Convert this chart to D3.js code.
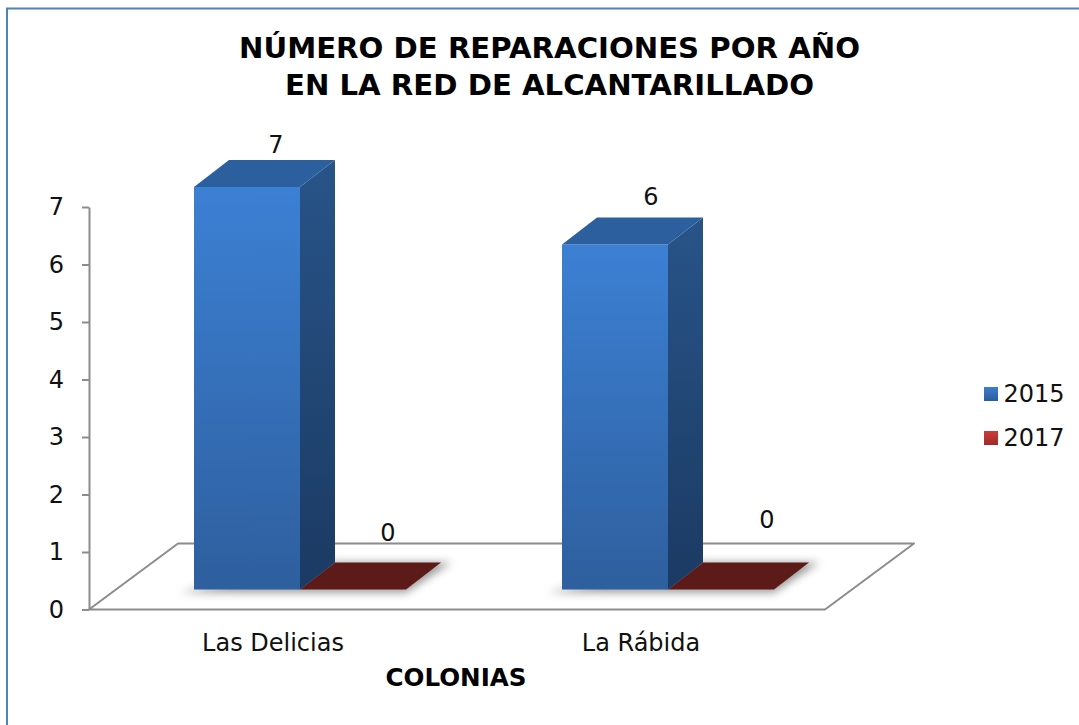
<!DOCTYPE html>
<html>
<head>
  <meta charset="UTF-8">
  <title>Reparaciones</title>
  <script src="https://d3js.org/d3.v7.min.js"></script>
  <style>
    html, body { margin: 0; padding: 0; background: white; }
    svg { display: block; }
    text { font-family: "DejaVu Sans", sans-serif; fill: #111; }
  </style>
</head>
<body>
<svg id="chart"></svg>
<script>
  let colonias = ["Las Delicias", "La Rábida"];
  let years = ["2015", "2017"];
  let values2015 = [7, 6];
  let values2017 = [0, 0];
  let yTicks = [0, 1, 2, 3, 4, 5, 6, 7];
  let titleLines = ["NÚMERO DE REPARACIONES POR AÑO", "EN LA RED DE ALCANTARILLADO"];
  let xTitle = "COLONIAS";

  let width = 1079;
  let height = 725;

  let svg = d3.select("#chart").attr("width", width).attr("height", height);
  let defs = svg.append("defs");

  function gradient(id, c1, c2) {
    let g = defs.append("linearGradient").attr("id", id)
                .attr("x1", 0).attr("y1", 0).attr("x2", 0).attr("y2", 1);
    g.append("stop").attr("offset", "0%").attr("stop-color", c1);
    g.append("stop").attr("offset", "100%").attr("stop-color", c2);
  }
  gradient("blueFront", "#3c80d4", "#2e5f9e");
  gradient("blueSide", "#285488", "#1b3a63");
  gradient("legendBlue", "#3c7dcf", "#2c5c9a");
  gradient("legendRed", "#d03a36", "#9c2c2a");

  defs.append("filter").attr("id", "shadow")
      .attr("x", "-20%").attr("y", "-40%").attr("width", "140%").attr("height", "180%")
      .append("feGaussianBlur").attr("stdDeviation", 4);

  // frame, only top and left show in the picture
  svg.append("path").attr("d", "M7,725V8.5H1079").attr("fill", "none")
     .attr("stroke", "#4f81bd").attr("stroke-width", 2);

  // scales
  let x = d3.scaleBand().domain(colonias).range([89, 825]);
  let xInner = d3.scaleBand().domain(years).range([0, 212]);
  let y = d3.scaleLinear().domain([0, 7]).range([609.5, 207]);

  // 3d offsets
  let floorDx = 89, floorDy = -66;
  let baseDx = 27, baseDy = -20;
  let barDx = 35, barDy = -27;

  function poly(pts) { return "M" + pts.map(p => p.join(",")).join("L") + "Z"; }

  // floor
  let x0 = x.range()[0], x1 = x.range()[1];
  svg.append("path")
     .attr("d", poly([[x0, y(0)], [x1, y(0)], [x1 + floorDx, y(0) + floorDy], [x0 + floorDx, y(0) + floorDy]]))
     .attr("fill", "white").attr("stroke", "#8c8c8c").attr("stroke-width", 2)
     .attr("stroke-linejoin", "round");

  // y axis
  let yAxis = svg.append("g").attr("transform", "translate(89,0)")
                 .call(d3.axisLeft(y).tickValues(yTicks).tickFormat(d3.format("d"))
                         .tickSize(7).tickSizeOuter(0).tickPadding(18));
  yAxis.selectAll("path, line").attr("stroke", "#8c8c8c").attr("stroke-width", 2);
  yAxis.selectAll("text").attr("font-size", 24).style("font-family", '"DejaVu Sans"').attr("fill", "#111");

  // x axis labels
  let xAxis = svg.append("g").attr("transform", "translate(0," + y(0) + ")")
                 .call(d3.axisBottom(x).tickSize(0).tickPadding(24));
  xAxis.select(".domain").remove();
  xAxis.selectAll("text").attr("font-size", 24).style("font-family", '"DejaVu Sans"').attr("fill", "#111");

  // rows for the bars
  let rows = [];
  colonias.forEach((c, i) => {
    rows.push({ colonia: c, year: "2015", value: values2015[i] });
    rows.push({ colonia: c, year: "2017", value: values2017[i] });
  });

  function barLeft(d) { return x(d.colonia) + x.bandwidth() / 2 - xInner.range()[1] / 2 + xInner(d.year) + baseDx; }
  function barBase() { return y(0) + baseDy; }
  function barTop(d) { return y(d.value) + baseDy; }

  let bw = xInner.bandwidth();

  // soft shadow on the floor
  svg.append("g").selectAll("path").data(rows.filter(d => d.value === 0)).join("path")
     .attr("d", d => poly([
        [barLeft(d) - bw - 14, barBase() + 3],
        [barLeft(d) + bw, barBase() + 3],
        [barLeft(d) + bw + barDx + 10, barBase() + barDy],
        [barLeft(d) + barDx, barBase() + barDy],
        [barLeft(d) - bw, barBase()]
     ]))
     .attr("fill", "#777").attr("filter", "url(#shadow)").attr("opacity", 0.75);

  // zero bars are flat
  svg.append("g").selectAll("path").data(rows.filter(d => d.value === 0)).join("path")
     .attr("d", d => poly([
        [barLeft(d), barBase()],
        [barLeft(d) + bw, barBase()],
        [barLeft(d) + bw + barDx, barBase() + barDy],
        [barLeft(d) + barDx, barBase() + barDy]
     ]))
     .attr("fill", "#5c1b19");

  let solid = svg.append("g").selectAll("g").data(rows.filter(d => d.value > 0)).join("g");
  solid.append("rect")
       .attr("x", barLeft).attr("y", barTop).attr("width", bw)
       .attr("height", d => barBase() - barTop(d))
       .attr("fill", "url(#blueFront)");
  solid.append("path")
       .attr("d", d => poly([
          [barLeft(d) + bw, barTop(d)],
          [barLeft(d) + bw + barDx, barTop(d) + barDy],
          [barLeft(d) + bw + barDx, barBase() + barDy],
          [barLeft(d) + bw, barBase()]
       ]))
       .attr("fill", "url(#blueSide)");
  solid.append("path")
       .attr("d", d => poly([
          [barLeft(d), barTop(d)],
          [barLeft(d) + barDx, barTop(d) + barDy],
          [barLeft(d) + bw + barDx, barTop(d) + barDy],
          [barLeft(d) + bw, barTop(d)]
       ]))
       .attr("fill", "#2c5f9e");

  // data labels were moved by hand in the original, so each has its own nudge
  let labelNudgeX = [29, 35, 36, 46];
  let labelNudgeY = [-34, -49, -40, -62];
  svg.append("g").selectAll("text").data(rows).join("text")
     .attr("x", (d, i) => barLeft(d) + bw / 2 + labelNudgeX[i])
     .attr("y", (d, i) => barTop(d) + labelNudgeY[i])
     .attr("text-anchor", "middle").attr("font-size", 24)
     .text(d => d.value);

  // titles
  svg.append("g").selectAll("text").data(titleLines).join("text")
     .attr("x", 549.5).attr("y", (d, i) => 58 + i * 37)
     .attr("text-anchor", "middle").attr("font-size", 29.2).attr("font-weight", "bold")
     .style("fill", "#000")
     .text(d => d);

  svg.append("text").attr("x", 456).attr("y", 686)
     .attr("text-anchor", "middle").attr("font-size", 24.6).attr("font-weight", "bold")
     .style("fill", "#000").text(xTitle);

  // legend
  let legend = svg.append("g").selectAll("g").data(years).join("g")
                  .attr("transform", (d, i) => "translate(984," + (387 + i * 44) + ")");
  legend.append("rect").attr("width", 14).attr("height", 14)
        .attr("fill", (d, i) => i === 0 ? "url(#legendBlue)" : "url(#legendRed)");
  legend.append("text").attr("x", 19.5).attr("y", 15).attr("font-size", 24).text(d => d);
</script>
</body>
</html>
